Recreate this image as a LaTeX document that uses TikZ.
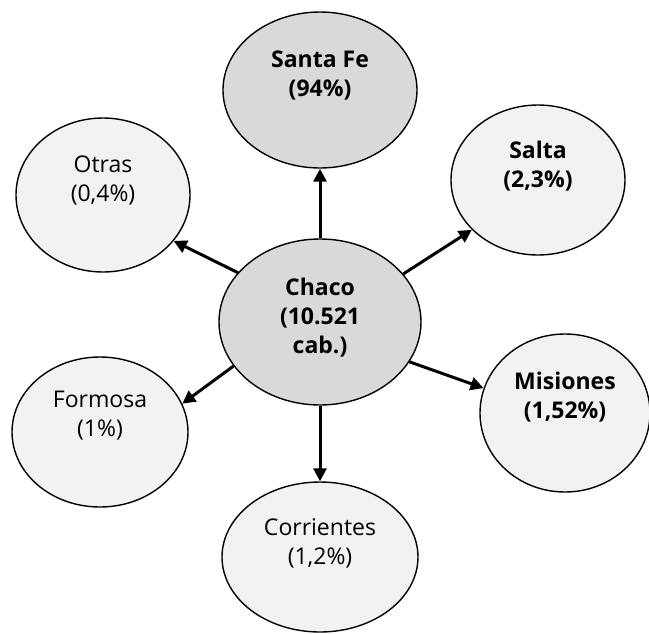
\documentclass[tikz,border=0pt]{standalone}
\usepackage{fontspec}
\setmainfont{Open Sans}
\usetikzlibrary{shapes.geometric,arrows.meta}
\definecolor{darkfill}{HTML}{D9D9D9}
\definecolor{lightfill}{HTML}{F2F2F2}
\tikzset{
  region/.style={ellipse,draw=black,line width=1.4pt,inner sep=0pt},
  mainreg/.style={region,fill=darkfill},
  minorreg/.style={region,fill=lightfill},
  lbl/.style={align=center,font=\fontsize{23}{29}\selectfont,inner sep=0pt},
  blbl/.style={lbl,font=\fontsize{23}{29}\selectfont\bfseries},
  flow/.style={line width=3pt,-{Triangle[length=13pt,width=13pt]}}
}
\begin{document}
\begin{tikzpicture}[x=1pt,y=-1pt]
\useasboundingbox (0,0) rectangle (649,633);
% ellipses
\node[mainreg,minimum width=194pt,minimum height=156pt] (santafe) at (320,90) {};
\node[minorreg,minimum width=174pt,minimum height=154pt] (otras) at (103,195) {};
\node[minorreg,minimum width=174pt,minimum height=150pt] (salta) at (538,180) {};
\node[mainreg,minimum width=202pt,minimum height=166pt] (chaco) at (320,322) {};
\node[minorreg,minimum width=176pt,minimum height=150pt] (formosa) at (100,432) {};
\node[minorreg,minimum width=170pt,minimum height=158pt] (misiones) at (565,413) {};
\node[minorreg,minimum width=196pt,minimum height=150pt] (corrientes) at (320,557) {};
% labels
\node[blbl,yshift=15pt] (tsantafe) at (santafe.center) {Santa Fe\\(94\%)};
\node[lbl,yshift=15pt] (totras) at (otras.center) {Otras\\(0,4\%)};
\node[blbl,yshift=14pt] (tsalta) at (salta.center) {Salta\\(2,3\%)};
\node[blbl,yshift=4pt] (tchaco) at (chaco.center) {Chaco\\(10.521\\cab.)};
\node[lbl,yshift=16pt] (tformosa) at (formosa.center) {Formosa\\(1\%)};
\node[blbl,yshift=16pt] (tmisiones) at (misiones.center) {Misiones\\(1,52\%)};
\node[lbl,yshift=14pt] (tcorrientes) at (corrientes.center) {Corrientes\\(1,2\%)};
% arrows
\draw[flow] (chaco.north) -- (santafe.south);
\draw[flow] (chaco.149) -- (otras.-33);
\draw[flow] (chaco.30) -- (salta.-143);
\draw[flow] (chaco.207) -- (formosa.19);
\draw[flow] (chaco.-24) -- (misiones.163);
\draw[flow] (chaco.south) -- (corrientes.north);
\end{tikzpicture}
\end{document}
